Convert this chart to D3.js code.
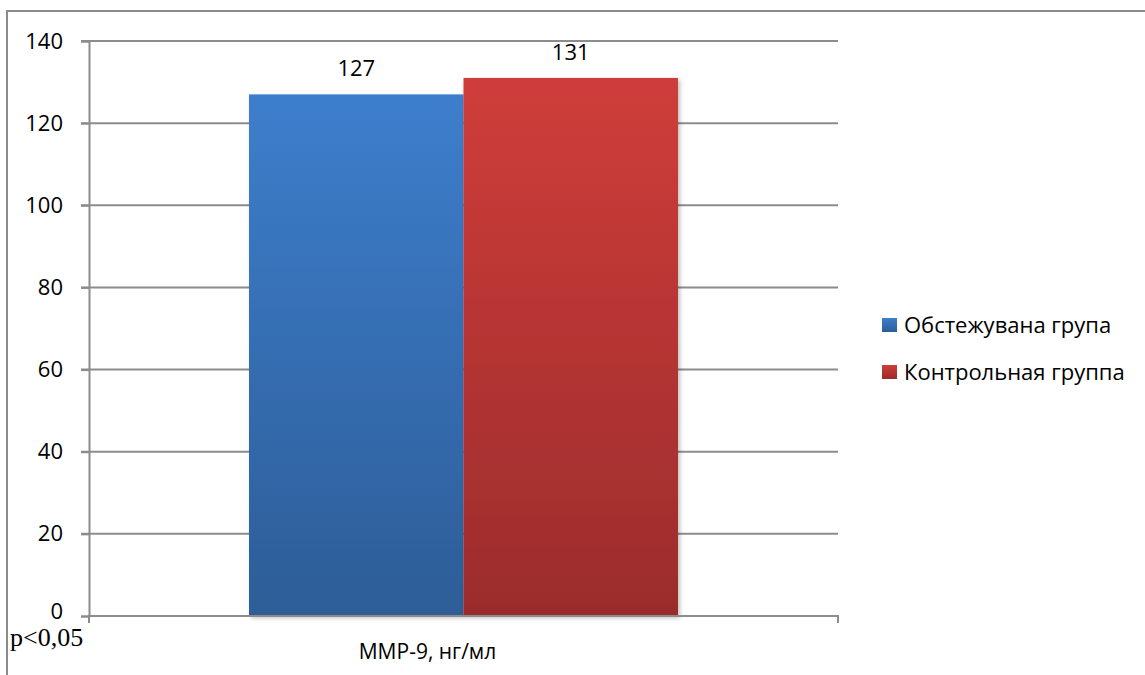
<!DOCTYPE html>
<html>
<head>
<meta charset="utf-8">
<script src="https://cdn.jsdelivr.net/npm/d3@7"></script>
<style>
  body { margin: 0; background: #fff; }
  svg text { font-family: "Open Sans", "Noto Sans", sans-serif; fill: #000; }
</style>
</head>
<body>
<div id="viz-container"></div>
<script>
let w = 1145;
let h = 675;

// data
let categories = ["MMP-9, нг/мл"];
let seriesNames = ["Обстежувана група", "Контрольная группа"];
let seriesValues = [127, 131];
let yTicks = [0, 20, 40, 60, 80, 100, 120, 140];
let noteText = "p<0,05";

let plotLeft = 89, plotRight = 838, plotTop = 41, plotBottom = 616;

let viz = d3.select("#viz-container")
  .append("svg")
  .attr("width", w)
  .attr("height", h);

let defs = viz.append("defs");
let grads = [["#3d7ecc", "#2d5d97"], ["#cf3d3a", "#9b2c2c"]];
grads.forEach(function(g, i){
  let lg = defs.append("linearGradient")
    .attr("id", "grad" + i)
    .attr("x1", 0).attr("y1", 0).attr("x2", 0).attr("y2", 1);
  lg.append("stop").attr("offset", "0%").attr("stop-color", g[0]);
  lg.append("stop").attr("offset", "100%").attr("stop-color", g[1]);
});
let shadow = defs.append("filter").attr("id", "shadow")
  .attr("x", "-5%").attr("y", "-5%").attr("width", "115%").attr("height", "115%");
shadow.append("feDropShadow")
  .attr("dx", 2).attr("dy", 2).attr("stdDeviation", 2)
  .attr("flood-color", "#000").attr("flood-opacity", 0.25);

// outer frame (only top and left visible)
viz.append("path")
  .attr("d", "M7,675 V11 H1145")
  .attr("fill", "none")
  .attr("stroke", "#8c8c8c")
  .attr("stroke-width", 2);

let yScale = d3.scaleLinear().domain([0, 140]).range([plotBottom, plotTop]);
let xScale = d3.scaleBand().domain(categories).range([plotLeft, plotRight]).paddingInner(0).paddingOuter(0.373);
let sub = d3.scaleBand().domain(seriesNames).range([0, xScale.bandwidth()]);

// gridlines
viz.append("g")
  .selectAll("line").data(yTicks.filter(function(d){ return d > 0; })).enter()
  .append("line")
  .attr("x1", plotLeft - 8).attr("x2", plotRight)
  .attr("y1", function(d){ return yScale(d); })
  .attr("y2", function(d){ return yScale(d); })
  .attr("stroke", "#8c8c8c")
  .attr("stroke-width", 2);

// y axis
let yAxis = d3.axisLeft(yScale).tickValues(yTicks).tickSize(8).tickPadding(18);
let yAxisGroup = viz.append("g")
  .attr("transform", "translate(" + plotLeft + ",0)")
  .call(yAxis);
yAxisGroup.select(".domain").attr("stroke", "#8c8c8c").attr("stroke-width", 2);
yAxisGroup.selectAll(".tick line").attr("stroke", "#8c8c8c").attr("stroke-width", 2);
yAxisGroup.selectAll(".tick text")
  .attr("font-size", "22px")
  .attr("font-family", "Open Sans")
  .attr("fill", "#000");
// the zero label sits a little higher, above the p-value note
yAxisGroup.selectAll(".tick text").filter(function(d){ return d === 0; })
  .attr("dy", "0.1em");

// bars
let bars = viz.append("g");
bars.selectAll("rect").data(seriesValues).enter()
  .append("rect")
  .attr("x", function(d, i){ return xScale(categories[0]) + sub(seriesNames[i]); })
  .attr("y", function(d){ return yScale(d); })
  .attr("width", sub.bandwidth())
  .attr("height", function(d){ return yScale(0) - yScale(d); })
  .attr("fill", function(d, i){ return "url(#grad" + i + ")"; })
  .attr("filter", "url(#shadow)");

// value labels
bars.selectAll("text").data(seriesValues).enter()
  .append("text")
  .attr("x", function(d, i){ return xScale(categories[0]) + sub(seriesNames[i]) + sub.bandwidth() / 2; })
  .attr("y", function(d){ return yScale(d) - 18; })
  .attr("text-anchor", "middle")
  .attr("font-size", "22px")
  .text(function(d){ return d; });

// x axis
let xAxis = d3.axisBottom(xScale).tickSize(0).tickPadding(24);
let xAxisGroup = viz.append("g")
  .attr("transform", "translate(0," + plotBottom + ")")
  .call(xAxis);
xAxisGroup.select(".domain")
  .attr("d", "M" + plotLeft + ",7V0H" + plotRight + "V7")
  .attr("stroke", "#8c8c8c").attr("stroke-width", 2);
xAxisGroup.selectAll(".tick text")
  .attr("font-size", "21px")
  .attr("font-family", "Open Sans")
  .attr("fill", "#000")
  .attr("dx", -36)
  .attr("dy", "0.9em");

// legend
let legend = viz.append("g").attr("transform", "translate(882,318)");
let item = legend.selectAll("g").data(seriesNames).enter()
  .append("g")
  .attr("transform", function(d, i){ return "translate(0," + i * 47 + ")"; });
item.append("rect")
  .attr("width", 15).attr("height", 14)
  .attr("fill", function(d, i){ return "url(#grad" + i + ")"; });
item.append("text")
  .attr("x", 22).attr("y", 7)
  .attr("dy", "0.35em")
  .attr("font-size", "22px")
  .text(function(d){ return d; });

// significance note
viz.append("text")
  .attr("x", 10).attr("y", 646)
  .style("font-family", "'Liberation Serif', serif")
  .attr("font-size", "26px")
  .text(noteText);
</script>
</body>
</html>
